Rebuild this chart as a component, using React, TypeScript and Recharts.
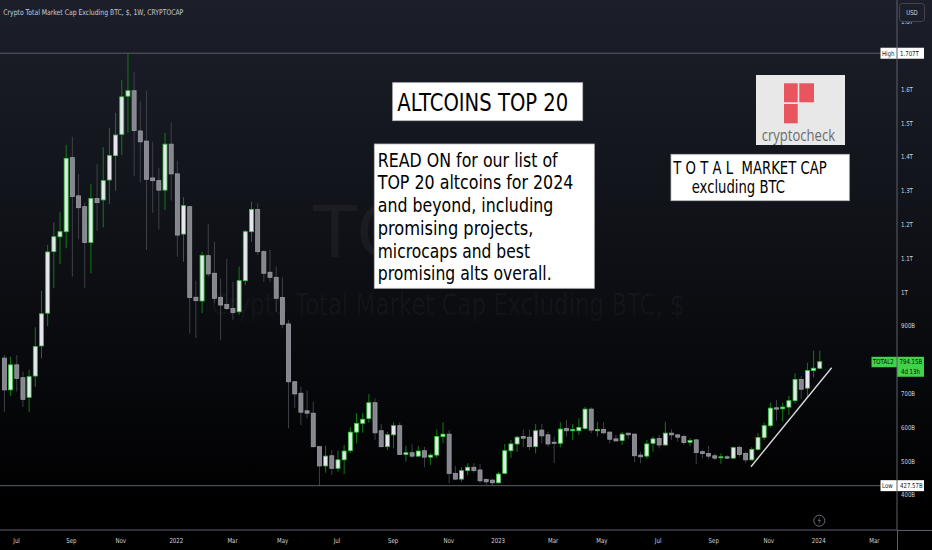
import React from 'react';
import { ComposedChart, Bar, XAxis, YAxis, ReferenceLine } from 'recharts';

// Weekly OHLC of TOTAL2 (billions of USD), one entry per week
const OPEN = [
  805, 711, 785, 747, 689, 752, 841, 938, 1120, 1164,
  1179, 1398, 1285, 1253, 1147, 1277, 1273, 1332, 1404, 1467,
  1580, 1596, 1477, 1447, 1338, 1330, 1302, 1438, 1350, 1172,
  1253, 985, 974, 1108, 1056, 985, 964, 952, 942, 1034,
  1179, 1245, 1120, 1059, 1044, 984, 906, 735, 701, 649,
  642, 543, 486, 516, 479, 504, 531, 586, 612, 626,
  673, 590, 543, 578, 605, 520, 525, 515, 531, 512,
  518, 573, 580, 464, 447, 472, 482, 474, 446, 444,
  436, 464, 531, 551, 573, 571, 543, 592, 578, 556,
  553, 597, 590, 590, 597, 654, 590, 594, 586, 566,
  561, 583, 580, 518, 515, 553, 567, 548, 583, 578,
  573, 556, 563, 528, 523, 516, 510, 513, 509, 541,
  523, 504, 535, 570, 605, 658, 655, 660, 679, 742,
  716, 768, 775,
];
const HIGH = [
  814, 809, 814, 765, 770, 896, 1004, 1140, 1206, 1238,
  1436, 1460, 1350, 1265, 1320, 1379, 1429, 1485, 1531, 1628,
  1707, 1652, 1564, 1596, 1445, 1367, 1472, 1502, 1389, 1281,
  1255, 1034, 1119, 1202, 1149, 1041, 1098, 1031, 1076, 1184,
  1268, 1263, 1125, 1125, 1076, 1044, 918, 736, 720, 709,
  676, 545, 546, 533, 531, 548, 600, 642, 642, 699,
  686, 610, 587, 615, 615, 546, 550, 545, 543, 523,
  594, 615, 592, 486, 482, 494, 494, 492, 449, 447,
  469, 551, 563, 575, 594, 594, 610, 610, 587, 573,
  615, 622, 610, 627, 661, 659, 617, 615, 587, 578,
  587, 584, 583, 528, 563, 573, 578, 617, 594, 580,
  578, 568, 566, 533, 545, 523, 523, 518, 543, 545,
  528, 541, 583, 614, 673, 681, 673, 693, 760, 752,
  791, 827, 827,
];
const LOW = [
  646, 693, 706, 661, 645, 720, 804, 900, 1012, 1083,
  1130, 1046, 1156, 1012, 1056, 1182, 1192, 1261, 1300, 1406,
  1472, 1344, 1324, 1125, 1235, 1186, 1243, 1271, 1105, 1090,
  878, 864, 938, 1046, 967, 859, 947, 918, 933, 1021,
  1149, 1110, 1031, 1031, 942, 893, 597, 657, 607, 627,
  540, 427.57, 466, 459, 469, 462, 524, 553, 584, 614,
  563, 540, 533, 538, 518, 499, 509, 512, 482, 489,
  509, 553, 435, 444, 440, 459, 466, 435, 430, 429,
  434, 462, 510, 528, 541, 533, 523, 553, 543, 494,
  541, 573, 563, 578, 592, 583, 573, 580, 553, 558,
  548, 565, 497, 494, 507, 528, 538, 545, 563, 558,
  548, 545, 491, 509, 506, 504, 492, 506, 507, 513,
  494, 502, 531, 563, 600, 620, 617, 637, 671, 683,
  689, 748, 772,
];
const CLOSE = [
  711, 785, 745, 683, 750, 839, 936, 1119, 1164, 1179,
  1396, 1283, 1250, 1147, 1277, 1265, 1330, 1404, 1465, 1578,
  1596, 1478, 1445, 1334, 1330, 1302, 1438, 1350, 1169, 1256,
  984, 975, 1109, 1054, 982, 962, 952, 940, 1034, 1179,
  1245, 1120, 1056, 1044, 982, 905, 735, 699, 645, 642,
  543, 486, 515, 479, 504, 530, 586, 612, 624, 673,
  584, 543, 578, 605, 520, 525, 515, 530, 512, 518,
  573, 580, 464, 447, 472, 482, 472, 442, 439, 436,
  462, 531, 551, 571, 568, 543, 590, 575, 551, 553,
  595, 590, 594, 600, 654, 592, 594, 584, 565, 560,
  580, 578, 516, 513, 551, 566, 548, 583, 578, 571,
  555, 561, 526, 523, 515, 509, 513, 509, 540, 520,
  504, 535, 570, 605, 657, 654, 660, 679, 742, 713,
  768, 775, 794.15,
];

// X axis (week index) ticks and their labels
const X_TICKS = [3.04, 11.9, 19.9, 28.9, 38, 46.1, 54.9, 64, 73, 81, 89.9, 97.8, 106.9, 115.9, 124.8, 132.9, 141.9];
const X_TICK_LABELS = ['Jul', 'Sep', 'Nov', '2022', 'Mar', 'May', 'Jul', 'Sep', 'Nov', '2023', 'Mar', 'May', 'Jul', 'Sep', 'Nov', '2024', 'Mar'];
const X_DOMAIN = [0.3525, 145.57];

// Y axis (billions of USD); 800B and 1.7T sit under the price tags
const Y_TICKS = [400, 500, 600, 700, 900, 1000, 1100, 1200, 1300, 1400, 1500, 1600, 1800];
const Y_DOMAIN = [296.4, 1864.5];

const HIGH_VALUE = 1707;
const LOW_VALUE = 427.57;
const LAST_VALUE = 794.15;
const TREND_START = { x: 121.93, y: 483.7 };
const TREND_END = { x: 134.99, y: 776.6 };

const data = OPEN.map((o, k) => ({
  week: k + 1,
  open: o,
  high: HIGH[k],
  low: LOW[k],
  close: CLOSE[k],
  range: [LOW[k], HIGH[k]],
}));

const W = 932;
const H = 550;
const SQ = 0.8; // horizontal squeeze of the picture's text
const FONT = "'DejaVu Sans', 'Noto Sans', sans-serif";

const fmtY = (v: number) => (v >= 1000 ? `${+(v / 1000).toFixed(1)}T` : `${v}B`);

const squeeze = (x: number, y: number) => `translate(${x} ${y}) scale(${SQ} 1) translate(${-x} ${-y})`;

const Candle = (props: any) => {
  const { x, y, width, height, payload } = props;
  if (x == null || y == null || !payload) return null;
  const { open, close, high, low } = payload;
  const top = Math.min(y, y + height);
  const h = Math.abs(height);
  const ratio = high === low ? 0 : h / (high - low);
  const yOf = (v: number) => top + (high - v) * ratio;
  const cx = x + width / 2;
  const bull = close >= open;
  const bTop = yOf(Math.max(open, close));
  const bBot = yOf(Math.min(open, close));
  const bw = 4;
  return (
    <g>
      <line x1={cx} x2={cx} y1={top} y2={top + h} stroke={bull ? '#127a16' : '#3f4048'} strokeWidth={1} />
      <rect
        x={cx - bw / 2}
        y={bTop}
        width={bw}
        height={Math.max(bBot - bTop, 1)}
        fill={bull ? '#e6e6ee' : '#86868e'}
        stroke={bull ? '#33c83a' : '#9b9ba3'}
        strokeWidth={0.8}
      />
    </g>
  );
};

const XTick = (props: any) => {
  const { x, y, payload } = props;
  const idx = X_TICKS.indexOf(payload.value);
  const label = idx >= 0 ? X_TICK_LABELS[idx] : '';
  const by = y + 5;
  return (
    <text x={x} y={by} textAnchor="middle" fontSize={6.8} fontFamily={FONT} fill="#d1d4dc" transform={squeeze(x, by)}>
      {label}
    </text>
  );
};

const YTick = (props: any) => {
  const { x, y, payload } = props;
  const by = y + 2.4;
  return (
    <text x={x} y={by} textAnchor="start" fontSize={6.8} fontFamily={FONT} fill="#d1d4dc" transform={squeeze(x, by)}>
      {fmtY(payload.value)}
    </text>
  );
};

const LevelTag = (props: any) => {
  const { viewBox, name, value } = props;
  if (!viewBox) return null;
  const right = viewBox.x + viewBox.width;
  const cy = viewBox.y;
  return (
    <g>
      <rect x={right - 16.5} y={cy - 5.5} width={43.5} height={11} fill="#ffffff" />
      <text x={right - 15} y={cy + 2.4} fontSize={6.8} fontFamily={FONT} fill="#131722" transform={squeeze(right - 15, cy + 2.4)}>
        {name}
      </text>
      <text x={right + 3} y={cy + 2.4} fontSize={6.8} fontFamily={FONT} fill="#131722" transform={squeeze(right + 3, cy + 2.4)}>
        {value}
      </text>
    </g>
  );
};

const LastTag = (props: any) => {
  const { viewBox } = props;
  if (!viewBox) return null;
  const right = viewBox.x + viewBox.width;
  const cy = viewBox.y;
  return (
    <g>
      <rect x={right - 25.5} y={cy - 5} width={25.5} height={10.5} fill="#43d14a" />
      <rect x={right} y={cy - 5} width={27} height={20} fill="#43d14a" />
      <text x={right - 24} y={cy + 2.6} fontSize={6.8} fontFamily={FONT} fill="#0b0b0b" transform={squeeze(right - 24, cy + 2.6)}>
        TOTAL2
      </text>
      <text x={right + 2.5} y={cy + 2.6} fontSize={6.8} fontFamily={FONT} fill="#0b0b0b" transform={squeeze(right + 2.5, cy + 2.6)}>
        {`${LAST_VALUE}B`}
      </text>
      <text x={right + 4} y={cy + 11.8} fontSize={6.8} fontFamily={FONT} fill="#0b0b0b" transform={squeeze(right + 4, cy + 11.8)}>
        4d 13h
      </text>
    </g>
  );
};

const READ_ON_LINES = [
  'READ ON for our list of',
  'TOP 20 altcoins for 2024',
  'and beyond, including',
  'promising projects,',
  'microcaps and best',
  'promising alts overall.',
];
const READ_ON_WIDTHS = [180, 195.7, 175.7, 155.7, 152.3, 174];

export default function App() {
  return (
    <div
      style={{
        position: 'absolute',
        left: 0,
        top: 0,
        width: W,
        height: H,
        overflow: 'hidden',
        background: 'linear-gradient(180deg, #1c1f29 0%, #12141b 35%, #07080b 70%, #000000 92%)',
      }}
    >
      {/* watermark */}
      <svg width={W} height={H} style={{ position: 'absolute', left: 0, top: 0 }}>
        <text x={449} y={257} textAnchor="middle" fontSize={71} fontFamily={FONT} fill="#ffffff" fillOpacity={0.045} textLength={272} lengthAdjust="spacingAndGlyphs">
          TOTAL2
        </text>
        <text x={448} y={315} textAnchor="middle" fontSize={30} fontFamily={FONT} fill="#ffffff" fillOpacity={0.045} textLength={473} lengthAdjust="spacingAndGlyphs">
          Crypto Total Market Cap Excluding BTC, $
        </text>
      </svg>

      <div style={{ position: 'absolute', left: 0, top: 0 }}>
        <ComposedChart width={W} height={H} data={data} margin={{ top: 0, right: 0, bottom: 0, left: 0 }}>
          <XAxis
            dataKey="week"
            type="number"
            domain={X_DOMAIN}
            allowDataOverflow
            ticks={X_TICKS}
            interval={0}
            height={20}
            axisLine={{ stroke: '#5d606b' }}
            tickLine={false}
            tick={<XTick />}
          />
          <YAxis
            orientation="right"
            type="number"
            domain={Y_DOMAIN}
            allowDataOverflow
            ticks={Y_TICKS}
            interval={0}
            width={35}
            axisLine={{ stroke: '#5d606b' }}
            tickLine={false}
            tickSize={2}
            tickMargin={2}
            tick={<YTick />}
          />
          <ReferenceLine y={HIGH_VALUE} stroke="#5a5e69" strokeWidth={1} />
          <ReferenceLine y={LOW_VALUE} stroke="#5a5e69" strokeWidth={1} />
          <Bar dataKey="range" shape={Candle} isAnimationActive={false} barSize={5} />
          <ReferenceLine
            segment={[TREND_START, TREND_END]}
            stroke="#d9d9d9"
            strokeWidth={1.4}
            ifOverflow="visible"
          />
          <ReferenceLine y={HIGH_VALUE} stroke="none" label={<LevelTag name="High" value="1.707T" />} />
          <ReferenceLine y={LOW_VALUE} stroke="none" label={<LevelTag name="Low" value="427.57B" />} />
          <ReferenceLine y={LAST_VALUE} stroke="none" label={<LastTag />} />
        </ComposedChart>
      </div>

      {/* annotations */}
      <svg width={W} height={H} style={{ position: 'absolute', left: 0, top: 0 }}>
        <text x={3.3} y={15} fontSize={7.8} fontFamily={FONT} fill="#c9ccd4" textLength={180} lengthAdjust="spacingAndGlyphs">
          Crypto Total Market Cap Excluding BTC, $, 1W, CRYPTOCAP
        </text>

        <rect x={899.5} y={3.5} width={25} height={18} rx={3} fill="#1c1f29" stroke="#434651" />
        <text x={912} y={15} textAnchor="middle" fontSize={6.8} fontFamily={FONT} fill="#d1d4dc" transform={squeeze(912, 15)}>
          USD
        </text>
        <line x1={897.5} x2={897.5} y1={530} y2={550} stroke="#5d606b" />
        <line x1={897} x2={932} y1={530.5} y2={530.5} stroke="#5d606b" />

        <g>
          <rect x={392.7} y={82.7} width={190} height={38} fill="#ffffff" stroke="#b8b8b8" strokeWidth={0.8} />
          <text x={397.3} y={110.7} fontSize={24} fontFamily={FONT} fill="#000000" textLength={171} lengthAdjust="spacingAndGlyphs">
            ALTCOINS TOP 20
          </text>
        </g>

        <g>
          <rect x={374.3} y={144} width={220} height={144.3} fill="#ffffff" stroke="#b8b8b8" strokeWidth={0.8} />
          {READ_ON_LINES.map((line, k) => (
            <text
              key={k}
              x={377.7}
              y={166.7 + k * 22.7}
              fontSize={19}
              fontFamily={FONT}
              fill="#000000"
              textLength={READ_ON_WIDTHS[k]}
              lengthAdjust="spacingAndGlyphs"
            >
              {line}
            </text>
          ))}
        </g>

        <g>
          <rect x={756} y={75} width={89} height={70} fill="#e8e8e8" />
          <rect x={784} y={83.3} width={13.7} height={19} fill="#e8555f" />
          <rect x={799.3} y={83.3} width={14.7} height={19} fill="#e8555f" />
          <rect x={784} y={104} width={13.7} height={19.3} fill="#e8555f" />
          <text x={761.7} y={141} fontSize={17} fontFamily="'Open Sans', sans-serif" fill="#6c6c6c" textLength={73.3} lengthAdjust="spacingAndGlyphs">
            cryptocheck
          </text>
        </g>

        <g>
          <rect x={671} y={154.3} width={178.3} height={46.4} fill="#ffffff" stroke="#b8b8b8" strokeWidth={0.8} />
          <text x={673.3} y={174.3} fontSize={18} fontFamily={FONT} fill="#000000" textLength={153.4} lengthAdjust="spacingAndGlyphs" style={{ whiteSpace: 'pre' }}>
            {'T O T A L  MARKET CAP'}
          </text>
          <text x={691.7} y={193} fontSize={17} fontFamily={FONT} fill="#000000" textLength={93.3} lengthAdjust="spacingAndGlyphs">
            excluding BTC
          </text>
        </g>

        <g>
          <circle cx={819.3} cy={520.7} r={5.5} fill="none" stroke="#6a6d78" strokeWidth={1} />
          <path d="M820.3 516.8 L817.6 521 L819.6 521 L818.4 524.6 L821.1 520.2 L819.1 520.2 Z" fill="#6a6d78" />
        </g>
      </svg>
    </div>
  );
}
